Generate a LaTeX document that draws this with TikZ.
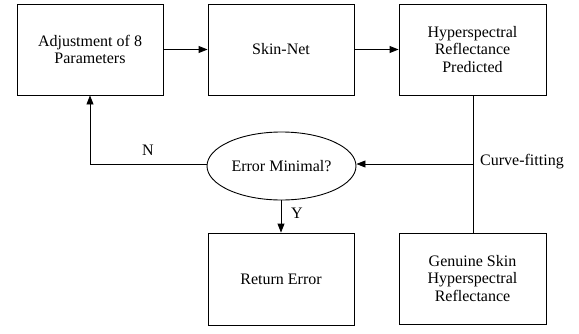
\documentclass[tikz,border=0pt]{standalone}
\usepackage{fontspec}
\setmainfont{Liberation Serif}
\usetikzlibrary{arrows.meta,shapes.geometric}
\begin{document}
\begin{tikzpicture}[x=1pt,y=-1pt,
  box/.style={draw,line width=0.9pt,minimum width=146pt,minimum height=91pt,inner sep=0pt,align=center,font=\fontsize{16}{17.5}\selectfont},
  oval/.style={draw,ellipse,line width=0.9pt,minimum width=149pt,minimum height=68pt,inner sep=0pt,font=\fontsize{16}{17.5}\selectfont},
  lbl/.style={inner sep=0pt,font=\fontsize{16}{17.5}\selectfont},
  conn/.style={line width=0.9pt},
  arr/.style={conn,-{Triangle[length=9pt,width=7pt]}}]
\useasboundingbox (0,0) rectangle (579,333);
\node[box] (b1) at (90,49.5) {Adjustment of 8\\Parameters};
\node[box] (b2) at (281,49.5) {Skin-Net};
\node[box,minimum width=147pt] (b3) at (472.5,49.5) {Hyperspectral\\Reflectance\\Predicted};
\node[oval] (ell) at (281.5,166) {Error Minimal?};
\node[box,minimum height=92pt] (ret) at (281,279) {Return Error};
\node[box,minimum width=147pt] (gen) at (472.5,278.5) {Genuine Skin\\Hyperspectral\\Reflectance};
\coordinate (cj) at (473,164);
\coordinate (nc) at (90,164);
\draw[arr] (b1.east) -- (b2.west);
\draw[arr] (b2.east) -- (b3.west);
\draw[conn] (b3.south -| cj) -- (gen.north -| cj);
\draw[arr] (cj) -- (ell.east |- cj);
\node[lbl,anchor=west] (cf) at (480,162) {Curve-fitting};
\draw[arr] (ell.west |- nc) -- (nc) -- (b1.south -| nc);
\node[lbl] (nl) at (148,150) {N};
\draw[arr] (ell.south -| ret) -- (ret.north);
\node[lbl] (yl) at (297,213) {Y};
\end{tikzpicture}
\end{document}
